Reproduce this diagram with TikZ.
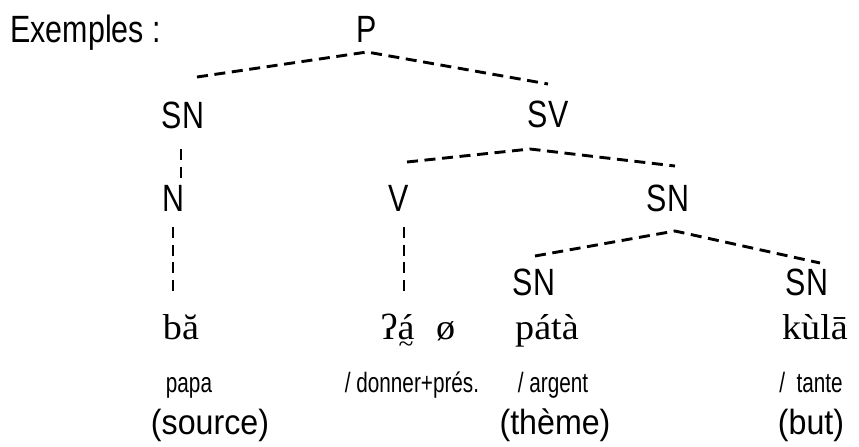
\documentclass[tikz,border=0pt]{standalone}
\usepackage{fontspec}
\setmainfont[FakeStretch=1.06]{Liberation Serif}
\newfontfamily\labelfont[FakeStretch=0.80]{Liberation Sans}
\newfontfamily\rolefont[FakeStretch=0.92]{Liberation Sans}
\newfontfamily\glossfont[FakeStretch=0.74]{Liberation Sans}
\newcommand{\tildeunder}[1]{\ooalign{#1\cr\hidewidth\raisebox{-6.5pt}{\fontsize{13}{13}\selectfont\char"7E}\hidewidth\cr}}
\usetikzlibrary{positioning}
\tikzset{
catlabel/.style={font=\labelfont\fontsize{19}{22}\selectfont,inner sep=0pt,anchor=base},
wordform/.style={font=\fontsize{18}{21}\selectfont,inner sep=0pt,anchor=base},
glossword/.style={font=\glossfont\fontsize{14}{16}\selectfont,inner sep=0pt,anchor=base},
rolelabel/.style={font=\rolefont\fontsize{17.5}{21}\selectfont,inner sep=0pt,anchor=base},
branch/.style={line width=1.45pt,dash pattern=on 5.5pt off 3.3pt}
}
\begin{document}
\begin{tikzpicture}[x=0.5pt,y=-0.5pt]
\useasboundingbox (0,0) rectangle (859,446);
% heading and tree labels
\node[catlabel,anchor=base west] (title) at (10,42) {Exemples :};
\node[catlabel] (P) at (367,42) {P};
\node[catlabel] (SNsubj) at (183,128) {SN};
\node[catlabel] (SV) at (548,127) {SV};
\node[catlabel] (N) at (173,211) {N};
\node[catlabel] (V) at (399,211) {V};
\node[catlabel] (SNobj) at (668,211) {SN};
\node[catlabel] (SNtheme) at (534,295) {SN};
\node[catlabel] (SNgoal) at (807,295) {SN};
% word forms
\node[wordform] (ba) at (181,339) {bă};
\node[wordform] (ga) at (418,339) {ʔ\tildeunder{á}\hspace{0.6em}ø};
\node[wordform] (pata) at (547,339) {pátà};
\node[wordform] (kula) at (815,339) {kùlā};
% glosses
\node[glossword] (papa) at (189,392) {papa};
\node[glossword] (donner) at (412,392) {/ donner+prés.};
\node[glossword] (argent) at (553,392) {/ argent};
\node[glossword] (tante) at (811,392) {/\ \ tante};
% roles
\node[rolelabel] (source) at (210,434) {(source)};
\node[rolelabel] (theme) at (555,434) {(thème)};
\node[rolelabel] (but) at (811,434) {(but)};
% branch ends
\coordinate (Papex) at (367,52);
\coordinate (SNsubjtop) at (197,77);
\coordinate (SVtop) at (548,84);
\coordinate (SNsubjfoot) at (181,149);
\coordinate (Ntop) at (181,178);
\coordinate (SVapex) at (530,149);
\coordinate (Vtop) at (407,162);
\coordinate (SNobjtop) at (675,166);
\coordinate (Nfoot) at (173,227);
\coordinate (batop) at (173,294);
\coordinate (Vfoot) at (404,227);
\coordinate (gatop) at (404,294);
\coordinate (SNobjapex) at (675,231);
\coordinate (SNthemetop) at (535,256);
\coordinate (SNgoaltop) at (820,263);
\draw[branch] (SNsubjtop)--(Papex)--(SVtop);
\draw[branch] (SNsubjfoot)--(Ntop);
\draw[branch] (Vtop)--(SVapex)--(SNobjtop);
\draw[branch] (Nfoot)--(batop);
\draw[branch] (Vfoot)--(gatop);
\draw[branch] (SNthemetop)--(SNobjapex)--(SNgoaltop);
\end{tikzpicture}
\end{document}
